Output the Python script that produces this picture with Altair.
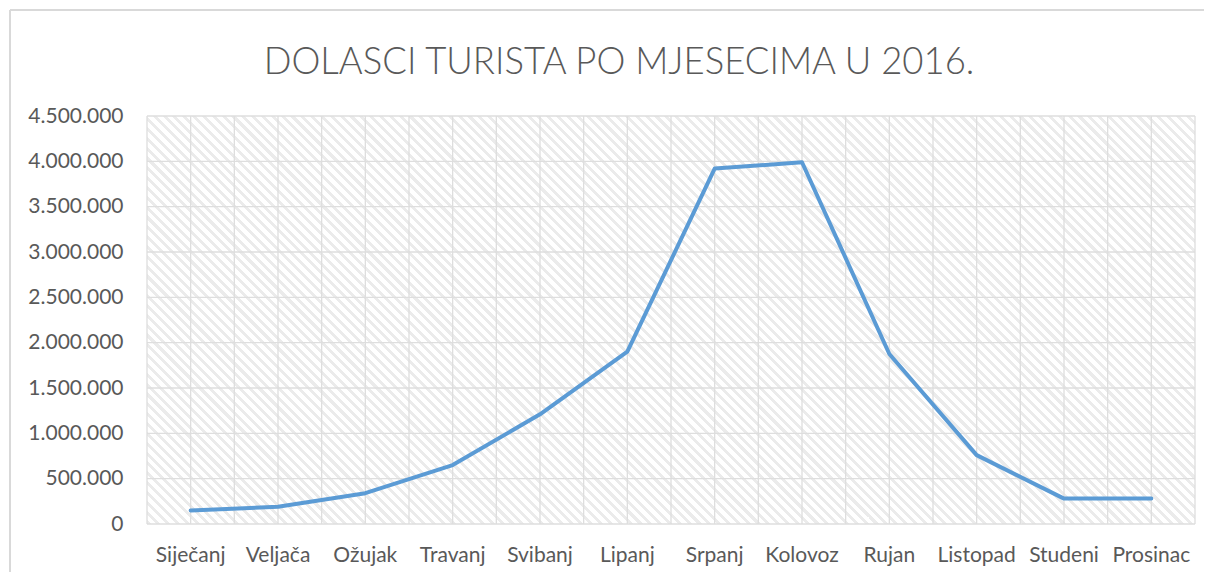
import altair as alt
import pandas as pd

months = ["Siječanj", "Veljača", "Ožujak", "Travanj", "Svibanj", "Lipanj",
          "Srpanj", "Kolovoz", "Rujan", "Listopad", "Studeni", "Prosinac"]
arrivals = [150000, 190000, 340000, 650000, 1210000, 1900000,
            3920000, 3990000, 1875000, 760000, 280000, 280000]
y_ticks = [0, 500000, 1000000, 1500000, 2000000, 2500000, 3000000, 3500000, 4000000, 4500000]
title_text = "DOLASCI TURISTA PO MJESECIMA U 2016."

df = pd.DataFrame({"Mjesec": months, "Dolasci": arrivals})
tick_df = pd.DataFrame({"v": y_ticks})
one_df = pd.DataFrame({"k": [0]})
title_df = pd.DataFrame({"t": [title_text]})

W, H = 1048, 408
FONT = "Lato"
TXT = "#595959"
GRID = "#dedede"
GW = 1.3

# diagonal hatch for the plot background, built as a striped linear gradient
vx, vy = 1.0, -H / W
tmax = (1 - vy) / (vx * vx + vy * vy)
n_stripes = 148
stops = []
for i in range(n_stripes):
    a = i / n_stripes
    b = (i + 0.42) / n_stripes
    c = (i + 1) / n_stripes
    stops += [{"offset": a, "color": "#ebebeb"}, {"offset": b, "color": "#ebebeb"},
              {"offset": b, "color": "#ffffff"}, {"offset": c, "color": "#ffffff"}]
hatch = {"gradient": "linear", "x1": 0, "y1": 1,
         "x2": tmax * vx, "y2": 1 + tmax * vy, "stops": stops}

x_scale = alt.Scale(type="band", paddingInner=0, paddingOuter=0)
x_axis = alt.Axis(title=None, grid=False, ticks=False, domain=False,
                  labelFont=FONT, labelFontSize=21, labelColor=TXT,
                  labelPadding=20, labelAngle=0)
y_scale = alt.Scale(domain=[0, 4500000], nice=False)
y_axis = alt.Axis(title=None, values=y_ticks, grid=False, ticks=False, domain=False,
                  labelFont=FONT, labelFontSize=21, labelColor=TXT, labelPadding=24,
                  labelExpr="replace(format(datum.value, ','), regexp(',', 'g'), '.')")

bg = alt.Chart(one_df).mark_rect(fill=hatch, strokeWidth=0).encode(
    x=alt.value(0), x2=alt.value(W), y=alt.value(0), y2=alt.value(H))

h_grid = alt.Chart(tick_df).mark_rule(color=GRID, strokeWidth=GW).encode(
    y=alt.Y("v:Q", scale=y_scale, axis=y_axis))

v_grid_edges = alt.Chart(df).mark_rule(color=GRID, strokeWidth=GW).encode(
    x=alt.X("Mjesec:N", sort=months, scale=x_scale, axis=x_axis, bandPosition=0))
v_grid_centers = alt.Chart(df).mark_rule(color=GRID, strokeWidth=GW).encode(
    x=alt.X("Mjesec:N", sort=months, scale=x_scale, axis=x_axis))
right_edge = alt.Chart(one_df).mark_rule(color=GRID, strokeWidth=GW).encode(
    x=alt.value(W), y=alt.value(0), y2=alt.value(H))

line = alt.Chart(df).mark_line(color="#5b9bd5", strokeWidth=4, strokeCap="round",
                               strokeJoin="round").encode(
    x=alt.X("Mjesec:N", sort=months, scale=x_scale, axis=x_axis),
    y=alt.Y("Dolasci:Q", scale=y_scale, axis=y_axis),
)

frame_top = alt.Chart(one_df).mark_rule(color="#d9d9d9", strokeWidth=2).encode(
    x=alt.value(-137), x2=alt.value(W + 30), y=alt.value(-106))
frame_left = alt.Chart(one_df).mark_rule(color="#d9d9d9", strokeWidth=2).encode(
    x=alt.value(-137), y=alt.value(-106), y2=alt.value(H + 80))

title = alt.Chart(title_df).mark_text(font=FONT, fontSize=36.5, fontWeight=300,
                                      color=TXT, align="center",
                                      baseline="alphabetic").encode(
    text="t:N", x=alt.value(472), y=alt.value(-42))

chart = alt.layer(bg, h_grid, v_grid_edges, v_grid_centers, right_edge, line,
                  frame_top, frame_left, title).properties(
    width=W, height=H,
    autosize=alt.AutoSizeParams(type="none"),
    padding={"left": 139, "top": 108, "right": 9, "bottom": 48},
).configure_view(stroke=None)

chart.save("out.html", embed_options={"renderer": "svg", "actions": False})
